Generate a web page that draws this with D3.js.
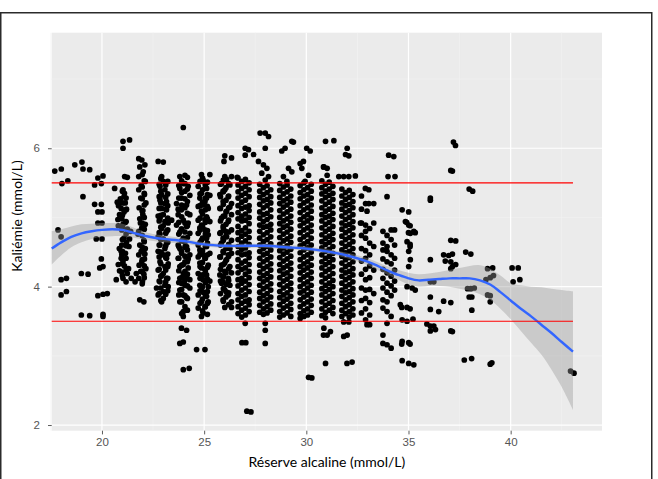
<!DOCTYPE html>
<html>
<head>
<meta charset="utf-8">
<script src="https://cdn.jsdelivr.net/npm/d3@7"></script>
<style>
  body { margin: 0; background: #fff; }
  svg { display: block; }
</style>
</head>
<body>
<svg width="658" height="479"></svg>
<script>
// axis ticks and reference lines
const xTicks = [20, 25, 30, 35, 40];
const yTicks = [2, 4, 6];
const xMinor = [17.5, 22.5, 27.5, 32.5, 37.5, 42.5];
const yMinor = [3, 5, 7];
const refLines = [3.5, 5.5];

// loess fit (x, fit, lower, upper)
const smoothX    = [17.54, 18, 18.5, 19, 19.5, 20, 20.5, 21, 21.5, 22, 22.5, 23, 24, 25, 26, 27, 28, 29, 30, 31, 32, 33, 34, 34.5, 35, 35.5, 36, 36.5, 37, 37.5, 38, 38.5, 39, 39.5, 40, 40.5, 41, 41.5, 42, 42.5, 43.05];
const smoothFit  = [4.55, 4.64, 4.72, 4.77, 4.80, 4.82, 4.83, 4.82, 4.78, 4.74, 4.71, 4.69, 4.66, 4.61, 4.59, 4.59, 4.59, 4.57, 4.55, 4.51, 4.45, 4.36, 4.23, 4.17, 4.12, 4.09, 4.10, 4.11, 4.12, 4.12, 4.12, 4.09, 4.03, 3.92, 3.80, 3.68, 3.57, 3.45, 3.33, 3.20, 3.06];
const smoothLow  = [4.32, 4.45, 4.57, 4.64, 4.69, 4.72, 4.73, 4.73, 4.71, 4.68, 4.66, 4.64, 4.62, 4.58, 4.56, 4.56, 4.56, 4.54, 4.52, 4.48, 4.41, 4.31, 4.17, 4.10, 4.03, 4.00, 4.01, 4.01, 4.00, 3.97, 3.94, 3.89, 3.81, 3.68, 3.53, 3.36, 3.19, 3.02, 2.80, 2.55, 2.22];
const smoothHigh = [4.80, 4.83, 4.87, 4.90, 4.91, 4.92, 4.92, 4.91, 4.86, 4.80, 4.76, 4.74, 4.70, 4.64, 4.62, 4.62, 4.62, 4.60, 4.58, 4.54, 4.49, 4.41, 4.29, 4.24, 4.20, 4.18, 4.19, 4.21, 4.24, 4.27, 4.30, 4.31, 4.26, 4.16, 4.05, 4.02, 4.00, 3.99, 3.97, 3.95, 3.93];

// scattered points [x, y]
const loosePoints = [
  [17.69,5.67],[18.01,5.70],[18.04,5.49],[18.33,5.53],[18.67,5.76],[19.02,5.80],[19.07,5.70],[19.40,5.69],
  [19.80,5.57],[20.05,5.60],[19.64,5.47],[19.97,5.49],[19.07,5.30],[19.64,5.19],[19.97,5.19],[19.80,5.08],
  [20.00,5.08],[19.80,4.92],[20.00,4.92],[19.72,4.69],[20.00,4.69],[17.85,4.82],[18.00,4.72],[19.97,4.40],
  [20.05,4.29],[19.89,4.27],[18.99,4.19],[19.32,4.18],[18.00,4.10],[18.26,4.12],[18.00,3.88],[18.26,3.93],
  [19.80,3.87],[20.05,3.89],[20.26,3.90],[18.99,3.59],[19.40,3.58],[20.05,3.60],[20.05,3.57],
  // 21
  [21.03,6.10],[21.35,6.12],[21.03,6.00],[21.11,5.59],[21.24,5.58],
  [20.62,5.42],[21.03,5.40],[21.08,5.30],[21.14,5.21],[20.75,5.22],[20.81,5.17],[20.94,5.13],[21.08,5.08],
  [20.86,5.04],[20.97,4.98],[20.78,4.97],[21.03,4.90],[20.97,4.82],[21.24,4.83],[21.40,4.80],[21.08,4.70],
  [21.35,4.69],[20.97,4.60],[21.32,4.58],[20.94,4.51],[20.97,4.46],[20.94,4.41],[21.03,4.36],[20.86,4.23],
  [20.97,4.21],[21.24,4.19],[21.03,4.12],[20.70,4.10],[21.43,4.12],[21.62,4.07],[21.68,4.19],[21.76,4.76],
  [21.10,5.35],[20.90,5.27],[21.20,5.12],[20.80,4.88],[21.15,4.93],[21.20,4.64],[20.85,4.55],[21.15,4.48],
  [21.10,4.30],[20.80,4.32],[21.30,4.26],
  // 22
  [21.80,5.85],[21.95,5.83],[22.10,5.76],[21.85,5.73],[22.02,5.66],[21.80,5.59],[22.12,5.52],[21.92,5.46],
  [21.80,5.40],[22.08,5.33],[21.90,5.28],[22.15,5.21],[21.82,5.14],[22.00,5.04],[21.85,4.98],[22.12,4.90],
  [21.95,4.85],[21.80,4.80],[22.05,4.67],[21.85,4.60],[22.12,4.55],[21.92,4.51],[21.80,4.46],[22.08,4.40],
  [21.95,4.36],[21.82,4.31],[22.15,4.26],[21.90,4.22],[22.05,4.18],[21.80,4.12],[21.98,4.07],[21.85,3.81],
  [22.05,3.78],[22.00,5.10],[21.88,4.92],[22.10,4.47],
  // 23
  [22.75,5.81],[23.00,5.80],[22.92,5.59],[23.00,5.52],[22.84,5.45],[23.08,5.40],[22.92,5.33],[22.84,5.25],
  [23.08,5.20],[22.92,5.13],[23.16,5.11],[23.00,5.04],[22.84,4.99],[23.08,4.94],[23.24,4.92],[23.41,4.96],
  [22.92,4.84],[23.16,4.80],[22.75,4.72],[23.00,4.69],[22.84,4.60],[23.08,4.55],[22.75,4.51],[23.00,4.46],
  [23.16,4.41],[22.84,4.36],[23.08,4.29],[22.75,4.24],[23.00,4.19],[23.16,4.12],[22.84,4.07],[23.08,4.02],
  [22.67,3.98],[23.24,4.00],[22.75,3.88],[23.00,3.83],[22.92,3.78],
  [22.84,5.30],[23.16,5.23],[22.75,5.02],[23.00,4.88],[22.84,4.76],[23.16,4.63],[22.92,4.48],[23.24,4.33],
  [22.92,4.16],[23.00,3.93],
  // 24
  [23.98,6.30],[23.81,5.59],[24.06,5.61],[23.98,5.49],[23.81,5.42],[24.22,5.45],[24.30,5.32],[23.89,5.28],
  [23.65,5.20],[24.14,5.18],[23.89,5.11],[23.73,5.04],[24.30,5.04],[23.98,4.96],[23.65,4.89],[24.14,4.87],
  [23.81,4.79],[24.30,4.77],[23.98,4.70],[23.73,4.60],[24.14,4.58],[23.89,4.51],[24.30,4.46],[23.73,4.41],
  [24.06,4.36],[23.81,4.29],[24.22,4.27],[23.98,4.19],[23.81,4.12],[24.30,4.10],[24.06,4.02],[23.81,3.95],
  [24.30,3.98],[23.98,3.88],[23.81,3.78],[24.06,3.71],[23.98,3.64],[23.98,3.57],[23.89,3.40],[24.14,3.37],
  [23.81,3.18],[23.98,3.20],[23.98,2.80],[24.27,2.82],
  [24.06,5.38],[23.73,5.12],[24.22,4.92],[23.89,4.83],[24.06,4.64],[23.81,4.55],[24.22,4.40],[23.98,4.32],
  [24.14,4.15],[23.89,4.05],[24.14,3.84],
  // 25
  [24.87,5.62],[25.28,5.62],[24.95,5.54],[24.71,5.45],[25.12,5.42],[24.87,5.35],[25.28,5.32],[24.79,5.28],
  [25.04,5.23],[24.71,5.16],[25.20,5.13],[24.87,5.09],[25.12,5.01],[24.71,4.96],[25.28,4.94],[24.87,4.89],
  [25.04,4.82],[24.71,4.77],[25.20,4.75],[24.87,4.67],[24.71,4.60],[25.12,4.58],[24.87,4.51],[25.28,4.48],
  [24.71,4.43],[25.04,4.41],[24.79,4.34],[25.20,4.31],[24.87,4.27],[24.71,4.19],[25.12,4.17],[24.95,4.10],
  [24.79,4.02],[25.20,4.00],[24.87,3.95],[24.71,3.88],[25.12,3.86],[24.87,3.78],[25.04,3.71],[24.71,3.69],
  [24.95,3.62],[24.87,3.57],[24.63,3.09],[25.04,3.09],
  [25.04,5.50],[24.95,5.18],[25.12,4.70],[24.79,4.53],[25.04,4.25],[25.28,4.08],[24.95,3.92],[25.20,3.78],
  [25.04,4.97],[24.95,4.46],[25.12,5.28],[24.79,4.85],
  // 26
  [26.01,5.89],[25.97,5.81],[26.34,5.86],[26.34,5.59],[26.01,5.59],[25.85,5.49],[26.26,5.47],[26.01,5.40],
  [25.77,5.33],[26.18,5.30],[25.93,5.23],[26.34,5.20],[25.77,5.13],[26.10,5.09],[26.34,5.04],[25.85,4.99],
  [26.18,4.94],[25.93,4.87],[26.34,4.82],[25.77,4.77],[26.10,4.72],[26.34,4.67],[25.85,4.63],[26.18,4.58],
  [25.93,4.51],[26.34,4.48],[25.77,4.43],[26.10,4.39],[25.85,4.31],[26.26,4.29],[26.01,4.22],[25.77,4.17],
  [26.18,4.12],[25.93,4.07],[26.26,4.02],[26.01,3.95],[26.18,3.88],[25.93,3.81],[26.34,3.78],[26.01,3.70],
  [26.34,3.70],
  [26.10,5.55],[25.93,5.38],[26.26,5.15],[26.01,5.02],[25.93,4.70],[26.26,4.55],[26.01,4.34],[26.34,4.20],
  [25.85,4.05],[26.10,3.92],[26.05,4.80],[26.18,4.46],[25.93,4.15],
  // 27 - 32 extras
  [27.01,6.00],[27.17,5.98],[27.01,5.90],[27.42,5.91],[26.62,5.58],[27.01,3.47],[26.85,3.19],[27.04,3.19],
  [27.09,2.20],[27.29,2.19],
  [27.74,6.22],[27.99,6.22],[28.15,6.17],[27.99,6.00],[27.66,5.81],[27.90,5.76],[28.07,5.71],[27.82,5.64],
  [28.15,5.59],[27.99,5.54],[27.99,3.47],[27.99,3.37],[27.99,3.18],
  [29.29,6.10],[29.37,6.09],[28.96,6.00],[28.80,5.96],[29.13,5.71],[29.29,5.66],[28.88,5.59],[29.05,5.52],
  [30.02,6.00],[30.19,5.96],[29.70,5.78],[29.86,5.81],[29.78,5.71],[30.11,5.61],[29.94,5.52],[30.11,2.69],
  [30.27,2.68],
  [30.94,6.10],[31.35,6.11],[30.86,5.73],[31.02,5.71],[31.02,5.61],[30.84,5.73],[30.86,3.40],[31.18,3.35],
  [31.02,3.30],[30.84,3.30],[30.94,2.89],
  [32.00,6.00],[31.92,5.91],[32.08,5.89],[31.59,5.59],[31.83,5.59],[32.08,5.59],[32.40,5.60],[31.83,3.49],
  [32.08,3.49],[31.83,3.28],[32.00,3.30],[31.99,2.89],[32.24,2.91],
  // 33 - 35
  [32.89,5.42],[33.06,5.40],[33.06,5.20],[33.30,5.20],[32.97,5.09],[32.65,4.92],[32.97,3.45],
  [34.03,5.90],[34.28,5.88],[34.00,5.59],[34.34,5.59],[33.95,5.30],[34.67,3.17],[35.08,3.17],
  [34.69,5.11],[35.01,5.08],[34.85,4.94],[35.01,4.89],[35.26,4.80],[35.09,4.77],[34.93,4.65],[35.01,4.51],
  [35.09,4.39],[35.01,4.29],[35.18,3.98],[34.93,4.00],[34.60,3.74],[34.93,3.70],[34.69,3.52],[34.93,3.50],
  [35.22,3.53],[34.69,3.21],[35.01,3.19],[34.69,2.93],[35.01,2.89],[35.26,2.87],[34.91,4.93],[35.08,4.88],
  [35.00,4.78],[35.33,4.78],[35.08,4.61],[35.08,4.58],[35.33,3.95],[34.67,3.70],[35.08,3.68],
  // 36 - 43
  [36.07,5.28],[36.07,5.25],[36.07,4.39],[36.07,4.07],[36.24,4.07],[36.07,3.85],[36.07,3.67],[36.48,3.64],
  [35.90,3.46],[36.07,3.43],[36.24,3.43],[36.07,3.36],[36.32,3.38],
  [37.20,6.09],[37.30,6.04],[37.07,5.68],[37.15,5.67],[37.07,4.67],[37.31,4.66],[36.72,4.46],[36.97,4.45],
  [37.15,4.47],[36.80,4.37],[37.07,4.36],[37.31,4.32],[37.15,4.29],[37.07,4.26],[36.72,3.79],[37.07,3.77],
  [37.07,3.36],[37.15,3.35],
  [37.97,5.41],[38.14,5.38],[37.80,4.50],[38.05,4.47],[37.89,3.97],[38.05,3.97],[38.22,3.98],[37.97,3.85],
  [38.10,3.85],[38.10,3.66],[37.73,2.94],[38.09,2.96],
  [38.87,4.26],[39.12,4.27],[38.79,4.10],[39.00,4.13],[39.16,4.16],[38.87,3.88],[39.00,3.87],[39.00,3.78],
  [39.00,2.88],[39.08,2.90],
  [40.07,4.27],[40.37,4.27],[40.12,4.07],[40.45,4.10],
  [42.93,2.78],[43.10,2.75]
];

// dense columns: x, then y values in hundredths
const denseColumns = [
  [21.00, "538 521 503 486 468 451 433 416"],
  [21.18, "528 511 494 476 459 441 424 407"],
  [21.97, "562 544 527 509 492 474 457 439 422 404"],
  [22.07, "553 535 518 500 483 465 448 430 413"],
  [22.80, "548 530 513 495 478 460 443 425 408 390"],
  [22.88, "556 538 521 503 486 468 450 433 415 398 380"],
  [23.12, "547 529 512 494 477 459 442 424 407 389"],
  [23.22, "552 534 517 499 482 464 447 429 412 394"],
  [23.76, "546 528 511 493 476 458 441 423 406 388"],
  [23.90, "553 536 518 501 483 466 448 431 413 396 378 361"],
  [24.06, "549 527 514 492 479 457 444 422 409 387"],
  [24.18, "558 541 523 506 488 471 453 436 418 401 383 366"],
  [24.80, "552 534 517 499 482 464 447 429 412 394 376"],
  [24.92, "557 540 522 505 487 470 452 435 417 400 382 365"],
  [25.06, "546 528 511 493 476 458 441 423 406 388 371"],
  [25.16, "551 533 516 498 481 463 446 428 411 393 376 360"],
  [25.80, "548 530 513 495 478 460 443 425 408 390"],
  [25.94, "554 537 519 502 484 467 449 432 414 397 379"],
  [26.07, "543 525 508 490 473 455 438 420 403 385"],
  [26.20, "549 531 514 496 479 461 444 426 409 391 374"],
  [26.66, "557 547 537 528 517 507 498 487 478 468 458 449 439 429 420 410 401 390 381 371 361"],
  [26.84, "552 542 532 522 513 502 495 481 473 463 454 446 434 425 412 405 395 386 376 366 356"],
  [27.02, "555 545 535 525 515 505 496 485 476 466 456 447 437 427 418 408 398 388 379 369 359"],
  [27.20, "550 540 530 517 510 500 491 480 471 461 449 442 432 422 413 403 393 381 374 364"],
  [27.72, "548 538 529 519 508 499 489 480 470 460 451 441 431 421 412 402 392 383 373 363"],
  [27.90, "543 533 524 514 504 494 486 475 465 455 446 436 426 416 407 397 387 378 368 360"],
  [28.08, "546 536 526 517 506 497 487 478 468 458 448 439 429 419 410 400 390 381 371 362"],
  [28.26, "540 530 521 511 501 490 482 472 462 453 443 433 424 414 404 395 385 375 366"],
  [28.70, "549 539 529 520 510 500 491 481 471 461 452 442 432 423 413 403 393 384 374 364 356"],
  [28.88, "544 534 524 515 505 495 486 476 466 456 447 437 427 418 408 398 388 379 369 359"],
  [29.06, "547 537 527 518 508 498 488 479 469 459 450 440 430 420 411 401 391 382 372 362"],
  [29.24, "541 531 522 512 502 493 483 473 464 454 444 434 425 415 405 396 386 376 367 357"],
  [29.70, "546 536 527 517 507 497 488 478 468 459 449 439 429 420 410 400 391 381 371 361 354"],
  [29.88, "550 540 531 521 511 501 492 482 472 462 453 443 433 424 414 404 394 385 375 365 357"],
  [30.06, "543 533 524 514 504 495 485 475 465 456 446 436 427 417 407 398 388 378 368 359"],
  [30.24, "548 538 528 518 509 499 489 480 470 460 450 441 431 421 412 402 392 382 373 363"],
  [30.76, "553 543 534 524 514 504 495 485 475 465 456 446 436 427 417 407 397 388 378 368 358"],
  [30.94, "548 538 529 519 509 500 490 480 470 461 451 441 432 422 412 402 393 383 373 363 355"],
  [31.12, "551 541 532 522 512 502 493 483 473 464 454 444 435 425 415 405 396 386 376 366"],
  [31.30, "545 535 526 516 506 497 487 477 468 458 448 439 429 419 409 400 390 380 370 361"],
  [31.74, "541 531 521 512 502 492 483 473 463 453 444 434 424 415 405 395 386 376 366 357"],
  [31.92, "536 526 517 507 497 488 478 468 458 449 439 429 420 410 400 391 381 371 361"],
  [32.10, "539 529 519 510 500 490 481 471 461 451 442 432 422 413 403 393 384 374 364 356"],
  [32.28, "533 523 514 504 494 485 475 465 455 446 436 426 417 407 397 388 378 368 359"],
  [32.70, "531 512 492 474 455 437 418 398 380 362"],
  [32.90, "520 489 480 470 452 441 425 410 395 383 368 352"],
  [33.10, "484 463 446 430 413 396 377 359 345"],
  [33.30, "492 458 424 390"],
  [33.75, "480 463 453 440 425 412 398 381 369 330 318"],
  [33.95, "474 458 451 436 420 405 392 378 364 347 316"],
  [34.15, "482 468 446 433 415 401 387 357 311"],
  [34.32, "482 460 441 424 408 395"]
];

const svg = d3.select('svg');
const pLeft = 51.7, pRight = 602, pTop = 32.7, pBottom = 430.7;

const x = d3.scaleLinear().domain([17.54, 44.47]).range([pLeft, pRight]);
const y = d3.scaleLinear().domain([1.918, 7.67]).range([pBottom, pTop]);

// frame around the figure
svg.append('rect')
  .attr('x', 0.75).attr('y', 12.75)
  .attr('width', 651).attr('height', 480)
  .attr('fill', 'none').attr('stroke', '#2b2b2b').attr('stroke-width', 1.5);

// panel
svg.append('rect')
  .attr('x', pLeft).attr('y', pTop)
  .attr('width', pRight - pLeft).attr('height', pBottom - pTop)
  .attr('fill', '#ebebeb');

const grid = svg.append('g');
grid.selectAll('.xmin').data(xMinor).enter().append('line')
  .attr('x1', d => x(d)).attr('x2', d => x(d)).attr('y1', pTop).attr('y2', pBottom)
  .attr('stroke', '#f4f4f4').attr('stroke-width', 0.6);
grid.selectAll('.ymin').data(yMinor).enter().append('line')
  .attr('y1', d => y(d)).attr('y2', d => y(d)).attr('x1', pLeft).attr('x2', pRight)
  .attr('stroke', '#f4f4f4').attr('stroke-width', 0.6);
grid.selectAll('.xmaj').data(xTicks).enter().append('line')
  .attr('x1', d => x(d)).attr('x2', d => x(d)).attr('y1', pTop).attr('y2', pBottom)
  .attr('stroke', '#fff').attr('stroke-width', 1.2);
grid.selectAll('.ymaj').data(yTicks).enter().append('line')
  .attr('y1', d => y(d)).attr('y2', d => y(d)).attr('x1', pLeft).attr('x2', pRight)
  .attr('stroke', '#fff').attr('stroke-width', 1.2);

// points
let points = loosePoints.slice();
denseColumns.forEach(c => {
  c[1].split(' ').forEach(v => points.push([c[0], +v / 100]));
});

svg.append('g').selectAll('circle')
  .data(points)
  .enter()
  .append('circle')
    .attr('cx', d => x(d[0]))
    .attr('cy', d => y(d[1]))
    .attr('r', 2.85)
    .attr('fill', '#000');

// smooth band + fit
const smooth = smoothX.map((v, i) => ({x: v, fit: smoothFit[i], lo: smoothLow[i], hi: smoothHigh[i]}));

svg.append('path')
  .datum(smooth)
  .attr('d', d3.area().x(d => x(d.x)).y0(d => y(d.lo)).y1(d => y(d.hi)).curve(d3.curveCatmullRom.alpha(0.5)))
  .attr('fill', '#999999').attr('fill-opacity', 0.4);

svg.append('path')
  .datum(smooth)
  .attr('d', d3.line().x(d => x(d.x)).y(d => y(d.fit)).curve(d3.curveCatmullRom.alpha(0.5)))
  .attr('fill', 'none').attr('stroke', '#3366ff').attr('stroke-width', 2.4);

// reference lines, from the left edge to the last data x
svg.append('g').selectAll('line')
  .data(refLines)
  .enter()
  .append('line')
    .attr('x1', x(17.54)).attr('x2', x(43.05))
    .attr('y1', d => y(d)).attr('y2', d => y(d))
    .attr('stroke', '#ff0000').attr('stroke-width', 1.1);

// axes
const xAxis = d3.axisBottom(x).tickValues(xTicks).tickSize(3.7).tickPadding(3).tickFormat(d3.format('d'));
const yAxis = d3.axisLeft(y).tickValues(yTicks).tickSize(3.7).tickPadding(8).tickFormat(d3.format('d'));

const gx = svg.append('g').attr('transform', 'translate(0,' + pBottom + ')').call(xAxis);
const gy = svg.append('g').attr('transform', 'translate(' + pLeft + ',0)').call(yAxis);

[gx, gy].forEach(g => {
  g.select('.domain').remove();
  g.selectAll('.tick line').attr('stroke', '#333').attr('stroke-width', 0.8);
  g.selectAll('.tick text')
    .attr('fill', '#555')
    .style('font-family', '"Liberation Sans", Arial, sans-serif')
    .style('font-size', '11.5px');
});

// axis titles
svg.append('text')
  .attr('x', (pLeft + pRight) / 2).attr('y', 467)
  .attr('text-anchor', 'middle')
  .style('font-family', 'Lato, "Open Sans", sans-serif')
  .style('font-size', '14px')
  .attr('fill', '#000')
  .text('Réserve alcaline (mmol/L)');

svg.append('text')
  .attr('transform', 'translate(22,216) rotate(-90)')
  .attr('text-anchor', 'middle')
  .style('font-family', 'Lato, "Open Sans", sans-serif')
  .style('font-size', '14px')
  .attr('fill', '#000')
  .text('Kaliémie (mmol/L)');
</script>
</body>
</html>
